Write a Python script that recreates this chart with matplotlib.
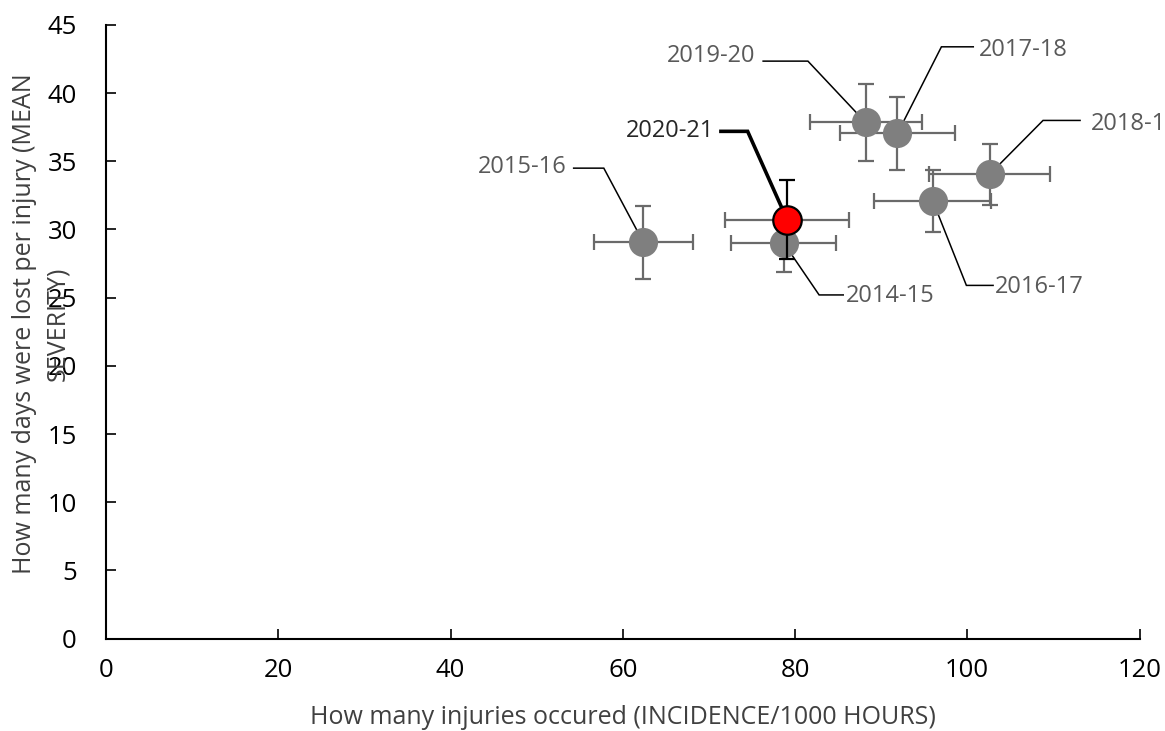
import matplotlib
matplotlib.use("Agg")
import matplotlib.pyplot as plt

plt.rcParams['font.family'] = ['Open Sans', 'DejaVu Sans']

seasons = ["2014-15", "2015-16", "2016-17", "2017-18", "2018-19", "2019-20", "2020-21"]
incidence = [78.7, 62.4, 96.0, 91.9, 102.6, 88.2, 79.1]
incidence_err = [6.1, 5.7, 6.8, 6.7, 7.0, 6.5, 7.2]
severity = [29.0, 29.05, 32.1, 37.05, 34.05, 37.85, 30.7]
severity_err = [2.1, 2.7, 2.25, 2.7, 2.25, 2.8, 2.9]

x_ticks = [0, 20, 40, 60, 80, 100, 120]
y_ticks = [0, 5, 10, 15, 20, 25, 30, 35, 40, 45]

# label layout: (elbow x, elbow y, end of horizontal x, text x, text y, ha)
label_layout = {
    "2014-15": (82.8, 25.2, 85.6, 85.9, 25.1, "left"),
    "2015-16": (57.8, 34.5, 54.3, 53.5, 34.55, "right"),
    "2016-17": (99.9, 25.9, 103.0, 103.2, 25.8, "left"),
    "2017-18": (97.0, 43.4, 100.7, 101.4, 43.2, "left"),
    "2018-19": (108.8, 38.0, 113.1, 114.3, 37.75, "left"),
    "2019-20": (81.5, 42.35, 76.3, 75.45, 42.7, "right"),
    "2020-21": (74.5, 37.2, 71.4, 70.6, 37.2, "right"),
}

fig = plt.figure(figsize=(11.65, 7.31), dpi=100)
ax = fig.add_axes([106/1165, 1-638.5/731, (1139.5-106)/1165, (638.5-25)/731])

grey = '#7f7f7f'
bar_grey = '#6a6a6a'
text_grey = '#595959'
highlight = "2020-21"

# leader lines
for s, xv, yv in zip(seasons, incidence, severity):
    ex, ey, hx, tx, ty, ha = label_layout[s]
    hl = (s == highlight)
    ax.plot([xv, ex, hx], [yv, ey, ey], color='black',
            lw=2.6 if hl else 1.1, zorder=2, clip_on=False,
            solid_joinstyle='miter')
    ax.text(tx, ty, s, ha=ha, va='center', fontsize=17,
            color='#262626' if hl else text_grey,
            fontweight='medium' if hl else 'normal', clip_on=False)

# error bars
for s, xv, yv, xe, ye in zip(seasons, incidence, severity, incidence_err, severity_err):
    hl = (s == highlight)
    z = 5 if hl else 3
    ax.errorbar([xv], [yv], xerr=[xe], fmt='none', ecolor=bar_grey,
                elinewidth=1.6, capsize=5.5, capthick=1.6, zorder=z)
    ax.errorbar([xv], [yv], yerr=[ye], fmt='none',
                ecolor='black' if hl else bar_grey,
                elinewidth=1.6, capsize=5.5, capthick=1.6, zorder=z)

# markers
for s, xv, yv in zip(seasons, incidence, severity):
    if s == highlight:
        ax.plot([xv], [yv], 'o', ms=20.5, color='#ff0000', mec='black', mew=1.6, zorder=6)
    else:
        ax.plot([xv], [yv], 'o', ms=21, color=grey, mec=grey, mew=0, zorder=4)

ax.set_xlim(0, 120)
ax.set_ylim(0, 45)
ax.set_xticks(x_ticks)
ax.set_yticks(y_ticks)
ax.tick_params(direction='in', length=7, width=1.2, labelsize=18.5, colors='black')
ax.tick_params(axis='x', pad=14)
ax.tick_params(axis='y', pad=21)
for sp in ['top', 'right']:
    ax.spines[sp].set_visible(False)
for sp in ['left', 'bottom']:
    ax.spines[sp].set_linewidth(1.5)

ax.set_xlabel("How many injuries occured (INCIDENCE/1000 HOURS)", fontsize=18,
              color='#404040', labelpad=16)
fig.text(25/1165, 1-324/731, "How many days were lost per injury (MEAN",
         rotation=90, ha='center', va='center', fontsize=18, color='#404040')
fig.text(58/1165, 1-324/731, "SEVERITY)",
         rotation=90, ha='center', va='center', fontsize=18, color='#404040')

fig.savefig("out.png", dpi=100)
